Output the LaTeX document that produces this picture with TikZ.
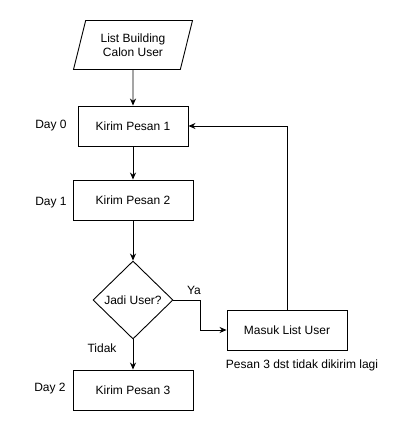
\documentclass[tikz,border=0pt]{standalone}
\usepackage{fontspec}
\setmainfont{Liberation Sans}
\usetikzlibrary{shapes.geometric,arrows.meta}

\begin{document}
\begin{tikzpicture}[x=1pt, y=-1pt, font=\fontsize{12}{14}\selectfont,
        box/.style={draw, line width=0.9pt, minimum width=120pt, minimum height=40pt, inner sep=0pt},
        flow/.style={-{Stealth[length=7pt,width=6pt]}, line width=0.9pt}]
        \useasboundingbox (0,0) rectangle (417,431);
        \node[draw, line width=0.9pt, trapezium, trapezium left angle=70, trapezium right angle=110, trapezium stretches=true, minimum width=120pt, minimum height=49pt, inner sep=0pt, align=center] (listbuilding) at (133,45) {List Building\\Calon User};
        \node[box, minimum width=110pt] (pesan1) at (133,126) {Kirim Pesan 1};
        \node[box] (pesan2) at (133,200) {Kirim Pesan 2};
        \node[draw, line width=0.9pt, diamond, minimum width=80pt, minimum height=78pt, inner sep=0pt] (jadiuser) at (133,300) {Jadi User?};
        \node[box] (pesan3) at (133,390) {Kirim Pesan 3};
        \node[box] (masuk) at (287,330) {Masuk List User};

        \node (day0) at (51,126) {Day 0};
        \node (day1) at (51,203) {Day 1};
        \node (day2) at (50,389) {Day 2};
        \node (ya) at (194,290) {Ya};
        \node (tidak) at (102,348) {Tidak};
        \node (catatan) at (302,365) {Pesan 3 dst tidak dikirim lagi};

        \draw[flow] (listbuilding) -- (pesan1);
        \draw[flow] (pesan1) -- (pesan2);
        \draw[flow] (pesan2) -- (jadiuser);
        \draw[flow] (jadiuser) -- (pesan3);
        \draw[flow] (jadiuser.east) -- ++(27,0) |- (masuk.west);
        \draw[flow] (masuk.north) |- (pesan1.east);
    \end{tikzpicture}
\end{document}
